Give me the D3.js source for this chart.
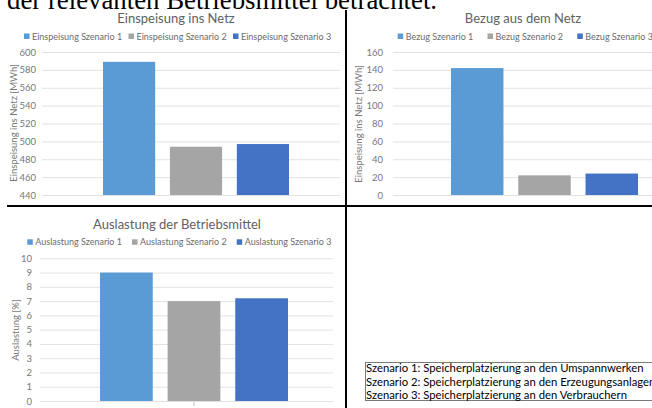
<!DOCTYPE html>
<html>
<head>
<meta charset="utf-8">
<script src="https://cdn.jsdelivr.net/npm/d3@7"></script>
<style>
  html, body { margin: 0; padding: 0; background: #fff; overflow: hidden; }
  svg { display: block; }
</style>
</head>
<body>
<svg id="page" width="652" height="408"></svg>
<script>
// Scenario categories and the three result series
const scenarios = ["Szenario 1", "Szenario 2", "Szenario 3"];
const einspeisung = [589, 494, 497];   // MWh fed into the grid
const bezug = [142, 22, 24];           // MWh drawn from the grid
const auslastung = [9.0, 7.0, 7.2];    // equipment utilisation in %

const einspeisungTicks = [440, 460, 480, 500, 520, 540, 560, 580, 600];
const bezugTicks = [0, 20, 40, 60, 80, 100, 120, 140, 160];
const auslastungTicks = [0, 1, 2, 3, 4, 5, 6, 7, 8, 9, 10];

const scenarioNotes = [
  "Szenario 1: Speicherplatzierung an den Umspannwerken",
  "Szenario 2: Speicherplatzierung an den Erzeugungsanlagen",
  "Szenario 3: Speicherplatzierung an den Verbrauchern"
];

const colors = ["#5b9bd5", "#a5a5a5", "#4472c4"];
const FONT = "Lato, 'Open Sans', sans-serif";

const svg = d3.select("#page");

// running body text of the surrounding document, cut at the top edge
svg.append("text")
  .attr("x", 7).attr("y", 9)
  .attr("font-family", "'Liberation Serif', 'Times New Roman', serif")
  .attr("font-size", 26.8)
  .attr("fill", "#000")
  .text("der relevanten Betriebsmittel betrachtet.");

function panel(cfg) {
  const g = svg.append("g");
  const y = d3.scaleLinear().domain(cfg.domain).range([cfg.yBottom, cfg.yTop]);
  const x = d3.scaleBand().domain(scenarios).range(cfg.barRange)
    .paddingInner(0.22).paddingOuter(0);

  // title
  g.append("text")
    .attr("x", cfg.titleX).attr("y", cfg.titleY)
    .attr("text-anchor", "middle")
    .attr("font-family", FONT).attr("font-size", 13)
    .attr("fill", "#616161")
    .text(cfg.title);

  // legend
  const leg = g.append("g");
  scenarios.forEach((s, i) => {
    const lx = cfg.legendStart + i * cfg.legendStep;
    leg.append("rect")
      .attr("x", lx).attr("y", cfg.legendY - 3)
      .attr("width", 5.5).attr("height", 5.5)
      .attr("fill", colors[i]);
    leg.append("text")
      .attr("x", lx + 8).attr("y", cfg.legendY + 3)
      .attr("font-family", FONT).attr("font-size", 9)
      .attr("fill", "#6b6b6b")
      .text(cfg.legendPrefix + " " + s);
  });

  // value axis with gridlines
  const axis = d3.axisLeft(y)
    .tickValues(cfg.ticks)
    .tickSize(-cfg.gridWidth)
    .tickPadding(cfg.tickPad)
    .tickFormat(d3.format("d"));
  const ag = g.append("g")
    .attr("transform", `translate(${cfg.gridX},0)`)
    .call(axis);
  ag.select(".domain").remove();
  ag.selectAll(".tick line").attr("stroke", "#e2e2e2").attr("stroke-width", 1);
  ag.selectAll(".tick text")
    .attr("font-family", FONT).attr("font-size", 9.5)
    .attr("fill", "#777");

  // axis title
  g.append("text")
    .attr("transform", `translate(${cfg.axisTitleX},${cfg.axisTitleY}) rotate(-90)`)
    .attr("text-anchor", "middle")
    .attr("font-family", FONT).attr("font-size", 9.5)
    .attr("fill", "#777")
    .text(cfg.axisTitle);

  // bars
  g.selectAll("rect.bar")
    .data(cfg.values)
    .join("rect")
    .attr("class", "bar")
    .attr("x", (d, i) => x(scenarios[i]))
    .attr("width", x.bandwidth())
    .attr("y", d => y(d))
    .attr("height", d => y(cfg.domain[0]) - y(d))
    .attr("fill", (d, i) => colors[i]);

  return { g, x, y };
}

panel({
  title: "Einspeisung ins Netz", titleX: 176, titleY: 22.5,
  legendPrefix: "Einspeisung", legendStart: 24, legendStep: 104.5, legendY: 36.5,
  domain: [440, 600], ticks: einspeisungTicks, yBottom: 195, yTop: 52,
  gridX: 42, gridWidth: 298, tickPad: 6,
  axisTitle: "Einspeisung ins Netz [MWh]", axisTitleX: 16.5, axisTitleY: 123,
  barRange: [103, 289], values: einspeisung
});

panel({
  title: "Bezug aus dem Netz", titleX: 523, titleY: 22.5,
  legendPrefix: "Bezug", legendStart: 397.7, legendStep: 89.8, legendY: 36.5,
  domain: [0, 160], ticks: bezugTicks, yBottom: 195, yTop: 52,
  gridX: 393, gridWidth: 262, tickPad: 10,
  axisTitle: "Einspeisung ins Netz [MWh]", axisTitleX: 361.5, axisTitleY: 124,
  barRange: [451, 638], values: bezug
});

const p3 = panel({
  title: "Auslastung der Betriebsmittel", titleX: 177, titleY: 228.5,
  legendPrefix: "Auslastung", legendStart: 27.3, legendStep: 104.7, legendY: 242.3,
  domain: [0, 10], ticks: auslastungTicks, yBottom: 401, yTop: 258.3,
  gridX: 40, gridWidth: 293, tickPad: 8,
  axisTitle: "Auslastung [%]", axisTitleX: 18.5, axisTitleY: 330,
  barRange: [100, 288], values: auslastung
});

// category axis tick below the bar group
p3.g.append("line")
  .attr("x1", 194).attr("x2", 194).attr("y1", 402).attr("y2", 406)
  .attr("stroke", "#bdbdbd");

// scenario legend box
const notes = svg.append("g");
notes.append("rect")
  .attr("x", 365.5).attr("y", 362.5)
  .attr("width", 300).attr("height", 38)
  .attr("fill", "none").attr("stroke", "#7a7a7a").attr("stroke-width", 1);
scenarioNotes.forEach((t, i) => {
  notes.append("text")
    .attr("x", 366).attr("y", 372 + i * 13.5)
    .attr("font-family", FONT).attr("font-size", 11.3)
    .attr("fill", "#000")
    .text(t);
});

// panel dividers
svg.append("line")
  .attr("x1", 7).attr("x2", 652).attr("y1", 206).attr("y2", 206)
  .attr("stroke", "#000").attr("stroke-width", 2);
svg.append("line")
  .attr("x1", 346).attr("x2", 346).attr("y1", 10).attr("y2", 408)
  .attr("stroke", "#000").attr("stroke-width", 2);
</script>
</body>
</html>
